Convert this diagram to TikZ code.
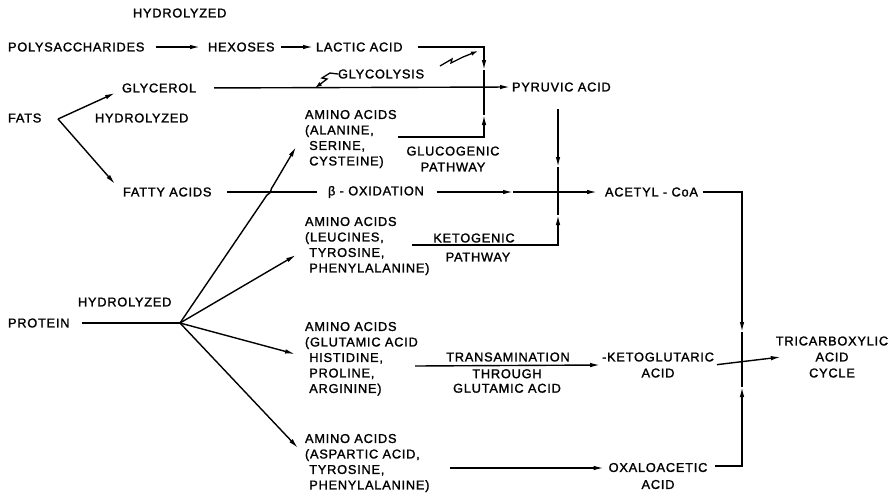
\documentclass[tikz,border=0pt]{standalone}
\usepackage{fontspec}
\setmainfont{Liberation Sans}[LetterSpace=6, FakeBold=1.5]
\usetikzlibrary{arrows.meta}

\begin{document}
\begin{tikzpicture}[x=1pt, y=-1pt, >={Latex[length=10pt,width=4.5pt]}, line width=1.4pt,
  lbl/.style={inner sep=0pt, outer sep=0pt, anchor=west, font=\fontsize{12.8}{15.5}\selectfont},
  blk/.style={lbl, anchor=north west, align=left},
  ctr/.style={lbl, anchor=center, align=center},
  bolt/.style={line width=1.3pt, -{Latex[length=7pt,width=4.5pt]}}]
  \useasboundingbox (0,0) rectangle (896,496);
  % Sacharidy a tuky
  \node[lbl] (hydA) at (133,13) {HYDROLYZED};
  \node[lbl] (poly) at (8,47) {POLYSACCHARIDES};
  \node[lbl] (hex) at (208,47) {HEXOSES};
  \node[lbl] (lac) at (316,47) {LACTIC ACID};
  \node[lbl] (gly) at (122,88) {GLYCEROL};
  \node[lbl] (glyc) at (338,74) {GLYCOLYSIS};
  \node[lbl] (pyr) at (512,87) {PYRUVIC ACID};
  \node[lbl] (fats) at (8,118) {FATS};
  \node[lbl] (hydB) at (95,118) {HYDROLYZED};
  \node[lbl] (fatty) at (123,192) {FATTY ACIDS};
  \node[lbl] (box) at (328,192) {β - OXIDATION};
  \node[lbl] (acet) at (605,192) {ACETYL - CoA};
  % Bilkoviny
  \node[lbl] (hydC) at (78,302) {HYDROLYZED};
  \node[lbl] (prot) at (8,323) {PROTEIN};
  \node[blk] (am1) at (305,110) {AMINO ACIDS\\(ALANINE,\\\hphantom{(}SERINE,\\\hphantom{(}CYSTEINE)};
  \node[blk] (am2) at (305,217) {AMINO ACIDS\\(LEUCINES,\\\hphantom{(}TYROSINE,\\\hphantom{(}PHENYLALANINE)};
  \node[blk] (am3) at (305,322) {AMINO ACIDS\\(GLUTAMIC ACID\\\hphantom{(}HISTIDINE,\\\hphantom{(}PROLINE,\\\hphantom{(}ARGININE)};
  \node[blk] (am4) at (305,434) {AMINO ACIDS\\(ASPARTIC ACID,\\\hphantom{(}TYROSINE,\\\hphantom{(}PHENYLALANINE)};
  % Popisy drah
  \node[ctr, font=\fontsize{12.8}{16}\selectfont] (glp) at (453,159) {GLUCOGENIC\\PATHWAY};
  \node[ctr] (ketA) at (474,238) {KETOGENIC};
  \node[ctr] (ketB) at (478,257) {PATHWAY};
  \node[ctr] (trA) at (508,357) {TRANSAMINATION};
  \node[ctr, font=\fontsize{12.8}{14.5}\selectfont] (trB) at (507,381) {THROUGH\\GLUTAMIC ACID};
  \node[ctr, font=\fontsize{12.8}{16}\selectfont] (kg) at (658,365) {-KETOGLUTARIC\\ACID};
  \node[ctr, font=\fontsize{12.8}{17}\selectfont] (ox) at (658,476) {OXALOACETIC\\ACID};
  \node[ctr, font=\fontsize{12.8}{16}\selectfont] (tca) at (832,357) {TRICARBOXYLIC\\ACID\\CYCLE};
  % Body spojnic
  \coordinate (jpyr) at (484,88);
  \coordinate (lacdn) at (484,70);
  \coordinate (glup) at (484,115);
  \coordinate (g0) at (398,137);
  \coordinate (p0) at (558,109);
  \coordinate (pdn) at (558,167);
  \coordinate (jac) at (558,192);
  \coordinate (bmid) at (513,192);
  \coordinate (kup) at (558,215);
  \coordinate (k0) at (412,245);
  \coordinate (adn) at (742,332);
  \coordinate (jtca) at (742,365);
  \coordinate (oup) at (742,387);
  \coordinate (o1) at (715,466);
  \coordinate (t0) at (415,366);
  \coordinate (a0) at (450,468);
  \coordinate (hub) at (180,323);
  \coordinate (tip1) at (296,147);
  \coordinate (tip2) at (296,255);
  \coordinate (tip3) at (295,354);
  \coordinate (tip4) at (298,448);
  \coordinate (fv) at (58,119);
  \coordinate (tipg) at (115,93);
  \coordinate (tipf) at (115,184);
  % Sacharidy
  \draw[->, shorten <=12pt, shorten >=8pt] (poly.east) -- (hex.west);
  \draw[->, shorten <=7pt, shorten >=3pt] (hex.east) -- (lac.west);
  \draw[->, shorten <=15pt] (lac.east) -| (lacdn);
  \draw (lacdn) -- (jpyr);
  % Tuky
  \draw[->] (fv) -- (tipg);
  \draw[->] (fv) -- (tipf);
  \draw[->, shorten <=18pt, shorten >=2pt] (gly.east) -- (pyr.west);
  \draw[bolt] (glyc.west) -- (330,73) -- (322,78) -- (327,79) -- (315,88);
  \draw[bolt] (440,66) -- (452,59) -- (451,63) -- (463,57) -- (478,51);
  \draw[shorten <=16pt, shorten >=11pt] (fatty.east) -- (box.west);
  \draw[->, shorten <=13pt] (box.east) -- (bmid);
  \draw[->, shorten >=8pt] (bmid) -- (acet.west);
  % Glukogenni a ketogenni draha
  \draw[->] (g0) -| (glup);
  \draw (glup) -- (jpyr);
  \draw[->] (p0) -- (pdn);
  \draw (pdn) -- (jac);
  \draw[->] (k0) -| (kup);
  \draw (kup) -- (jac);
  % Cyklus
  \draw[->, shorten <=5pt] (acet.east) -| (adn);
  \draw (adn) -- (jtca);
  \draw[->, shorten <=3pt] (kg.east) -- ([xshift=5pt]tca.west);
  \draw[->] (o1) -| (oup);
  \draw (oup) -- (jtca);
  \draw[->] (t0) -- ([xshift=-2pt]kg.west);
  \draw[->, shorten >=5pt] (a0) -- (ox.west |- a0);
  % Bilkoviny
  \draw[shorten <=12pt] (prot.east) -- (hub);
  \draw[->] (hub) -- (267,195) .. controls (272,193) and (270,189) .. (273,186) -- (tip1);
  \draw[->] (hub) -- (tip2);
  \draw[->] (hub) -- (tip3);
  \draw[->] (hub) -- (tip4);
\end{tikzpicture}
\end{document}
